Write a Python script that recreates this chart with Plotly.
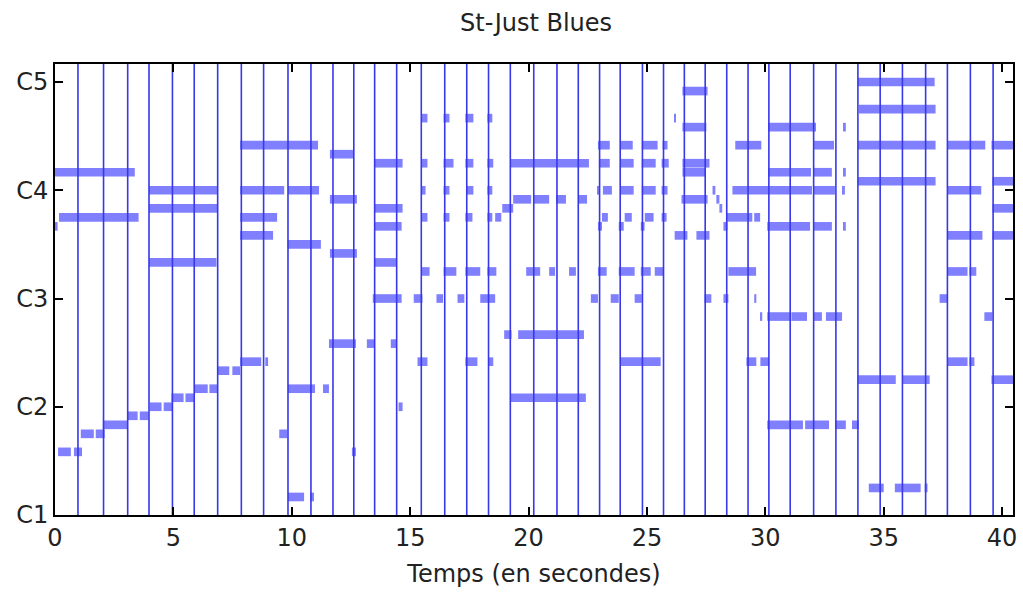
import plotly.graph_objects as go

# Beat markers (seconds)
beat_times = [0.97, 2.05, 3.07, 3.97, 4.96, 5.88, 6.87, 7.87, 8.81, 9.84, 10.81, 11.74,
              12.62, 13.50, 14.43, 15.47, 16.46, 17.39, 18.31, 19.23, 20.22, 21.20, 22.10,
              23.00, 23.87, 24.81, 25.70, 26.58, 27.46, 28.37, 29.27, 30.15, 31.05, 32.04,
              32.98, 33.91, 34.85, 35.79, 36.77, 37.69, 38.66, 39.62]

# Notes: MIDI pitch, start (s), end (s)
note_pitch = []
note_start = []
note_end = []

def add(p, segs):
    for s, e in segs:
        note_pitch.append(p)
        note_start.append(s)
        note_end.append(e)

# 0 - 13 s
add(62, [(0.0, 3.37)])
add(57, [(0.17, 3.53)])
add(56, [(0.0, 0.11)])
add(60, [(3.97, 6.87), (7.82, 9.68), (9.84, 11.15)])
add(58, [(3.97, 6.87)])
add(52, [(3.97, 6.82)])
add(31, [(0.13, 0.67), (0.80, 1.14), (12.54, 12.71)])
add(33, [(1.09, 1.64), (1.72, 2.10), (9.47, 9.80)])
add(34, [(2.02, 3.07)])
add(35, [(3.07, 3.49), (3.58, 3.95)])
add(36, [(4.00, 4.50), (4.59, 4.96), (14.51, 14.68)])
add(37, [(4.92, 5.43), (5.51, 5.89)])
add(38, [(5.89, 6.45), (6.52, 6.86), (9.84, 10.98), (11.32, 11.57)])
add(40, [(6.86, 7.36), (7.49, 7.82)])
add(41, [(7.82, 8.71), (8.88, 9.00)])
add(65, [(7.82, 11.11)])
add(57, [(7.82, 9.38)])
add(55, [(7.82, 9.21)])
add(54, [(9.82, 11.23)])
add(64, [(11.61, 12.61)])
add(59, [(11.61, 12.75)])
add(53, [(11.61, 12.75)])
add(26, [(9.84, 10.52), (10.77, 10.94)])
add(43, [(11.57, 12.71), (13.17, 13.50), (14.18, 14.43)])
# 13.5 - 19 s
add(63, [(13.50, 14.68)])
add(58, [(13.50, 14.68)])
add(56, [(13.50, 14.64)])
add(52, [(13.50, 14.43)])
add(48, [(13.42, 14.64)])
add(68, [(15.47, 15.73), (16.41, 16.66), (17.33, 17.67), (18.26, 18.47)])
add(63, [(15.47, 15.73), (16.41, 16.83), (17.33, 17.67), (18.26, 18.51)])
add(60, [(15.47, 15.65), (16.41, 16.66), (17.39, 17.67), (18.26, 18.47)])
add(57, [(15.47, 15.73), (16.41, 16.66), (17.33, 17.63), (18.26, 18.47), (18.59, 18.85)])
add(51, [(15.47, 15.82), (16.41, 16.95), (17.33, 17.96), (18.26, 18.64)])
add(48, [(15.15, 15.52), (16.11, 16.39), (17.00, 17.29), (17.96, 18.59)])
add(41, [(15.31, 15.73), (17.33, 17.84), (18.30, 18.51)])
# 19 - 22.6 s
add(58, [(18.89, 19.35)])
add(59, [(19.35, 20.11), (20.19, 20.87), (21.16, 21.58), (22.09, 22.47)])
add(63, [(19.23, 22.55)])
add(51, [(19.90, 20.49), (20.87, 21.12), (21.71, 22.00)])
add(44, [(18.97, 19.28), (19.56, 22.34)])
add(37, [(19.23, 22.42)])
# 22.6 - 27 s
add(65, [(22.93, 23.43), (23.87, 24.40), (24.78, 25.45), (25.66, 25.87)])
add(63, [(22.97, 23.43), (23.87, 24.44), (24.78, 25.37), (25.62, 25.92)])
add(60, [(22.93, 23.01), (23.14, 23.52), (23.87, 24.44), (24.78, 25.37), (25.62, 25.87)])
add(57, [(23.10, 23.35), (24.06, 24.36), (24.91, 25.28), (25.62, 25.83)])
add(56, [(22.93, 23.10), (23.81, 24.02), (24.74, 24.90)])
add(51, [(22.93, 23.30), (23.81, 24.48), (24.74, 25.16), (25.33, 25.70)])
add(48, [(22.63, 22.93), (23.47, 23.81), (24.48, 24.78)])
add(41, [(23.87, 25.58)])
add(68, [(26.17, 26.21)])
add(55, [(26.17, 26.71), (27.09, 27.64)])
add(71, [(26.50, 27.56)])
add(67, [(26.50, 27.51)])
add(63, [(26.50, 27.64)])
add(62, [(26.50, 27.48)])
add(59, [(26.46, 27.56)])
# 27 - 33.5 s
add(48, [(27.43, 27.72), (28.23, 28.44), (29.53, 29.62)])
add(60, [(27.77, 27.89), (28.61, 31.97), (32.02, 32.94), (33.28, 33.36)])
add(59, [(27.93, 28.06)])
add(58, [(28.06, 28.18)])
add(56, [(28.23, 28.40), (30.08, 31.89), (32.02, 32.81), (33.28, 33.40)])
add(57, [(28.36, 29.45), (29.53, 29.78)])
add(51, [(28.44, 29.61)])
add(65, [(28.73, 29.83), (32.06, 32.90)])
add(41, [(29.20, 29.62), (29.79, 30.16)])
add(46, [(29.79, 29.87), (30.08, 31.05), (31.10, 31.76), (32.02, 32.39), (32.56, 33.24)])
add(67, [(30.12, 32.14), (33.28, 33.40)])
add(62, [(30.12, 31.93), (32.02, 32.81), (33.32, 33.40)])
add(34, [(30.08, 31.59), (31.68, 32.69), (32.94, 33.40), (33.66, 33.95)])
# 33.5 - end
add(72, [(33.91, 37.15)])
add(69, [(33.95, 37.19)])
add(65, [(33.91, 37.19), (37.69, 39.29), (39.55, 40.6)])
add(61, [(33.91, 37.19), (39.59, 40.6)])
add(39, [(33.91, 35.51), (35.80, 36.94), (39.55, 40.6)])
add(27, [(34.37, 35.00), (35.47, 36.56), (36.73, 36.85)])
add(60, [(37.69, 39.12)])
add(55, [(37.69, 39.17), (39.59, 40.6)])
add(51, [(37.69, 38.54), (38.62, 38.91)])
add(41, [(37.69, 38.54), (38.62, 38.83)])
add(48, [(37.36, 37.69)])
add(46, [(39.25, 39.59)])
add(58, [(39.59, 40.6)])

y_tick_vals = [24, 36, 48, 60, 72]
y_tick_text = ["C1", "C2", "C3", "C4", "C5"]
x_tick_vals = [0, 5, 10, 15, 20, 25, 30, 35, 40]

FONT = "DejaVu Sans"
FSIZE = 24

fig = go.Figure()
fig.add_trace(go.Bar(
    orientation="h",
    y=note_pitch,
    base=note_start,
    x=[e - s for s, e in zip(note_start, note_end)],
    width=0.96,
    marker=dict(color="rgb(128,128,255)", line=dict(width=0)),
    hoverinfo="skip",
    showlegend=False,
))

bx, by = [], []
for t in beat_times:
    bx += [t, t, None]
    by += [24, 74, None]
fig.add_trace(go.Scatter(
    x=bx, y=by, mode="lines",
    line=dict(color="rgb(55,55,235)", width=1.6),
    hoverinfo="skip", showlegend=False,
))

axis_common = dict(
    showline=True, linecolor="black", linewidth=2, mirror="ticks",
    ticks="inside", ticklen=8, tickwidth=1.5, tickcolor="black",
    showgrid=False, zeroline=False,
    tickfont=dict(family=FONT, size=FSIZE, color="#222"),
)

fig.update_layout(
    width=1023, height=596,
    margin=dict(l=55, r=6, t=64, b=81),
    paper_bgcolor="white", plot_bgcolor="white",
    barmode="overlay",
    title=dict(text="St-Just Blues", x=0.524, xanchor="center", y=0.962, yanchor="middle",
               font=dict(family=FONT, size=FSIZE, color="#222")),
    xaxis=dict(range=[0, 40.46], tickvals=x_tick_vals,
               title=dict(text="Temps (en secondes)", font=dict(family=FONT, size=FSIZE, color="#222"), standoff=14),
               **axis_common),
    yaxis=dict(range=[24, 74], tickvals=y_tick_vals, ticktext=y_tick_text, **axis_common),
)

fig.write_html("out.html")
